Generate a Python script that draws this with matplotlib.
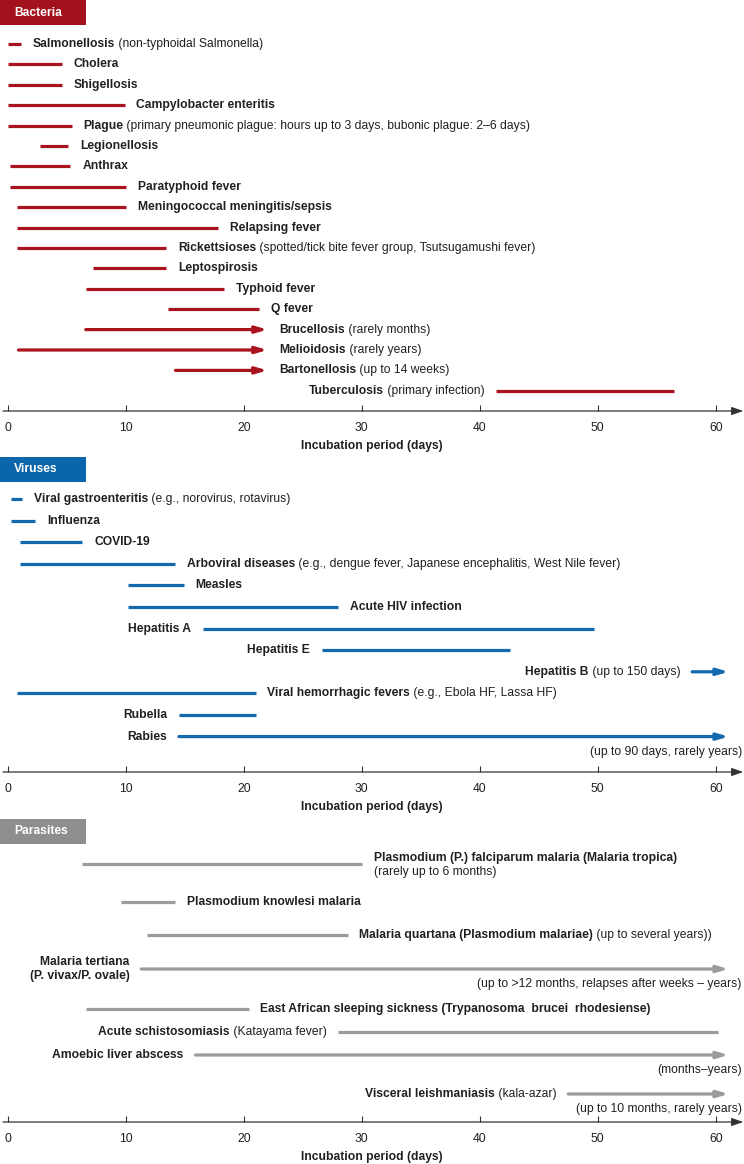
import numpy as np
import matplotlib.pyplot as plt
from matplotlib.patches import Rectangle
from matplotlib.transforms import blended_transform_factory

plt.rcParams['font.family'] = ['Liberation Sans', 'DejaVu Sans']
plt.rcParams['font.size'] = 8.7

# ---- Bacteria ----
bac_names = ['Salmonellosis', 'Cholera', 'Shigellosis', 'Campylobacter enteritis', 'Plague',
             'Legionellosis', 'Anthrax', 'Paratyphoid fever', 'Meningococcal meningitis/sepsis',
             'Relapsing fever', 'Rickettsioses', 'Leptospirosis', 'Typhoid fever', 'Q fever',
             'Brucellosis', 'Melioidosis', 'Bartonellosis', 'Tuberculosis']
bac_notes = [' (non-typhoidal Salmonella)', '', '', '',
             ' (primary pneumonic plague: hours up to 3 days, bubonic plague: 2\u20136 days)',
             '', '', '', '', '', ' (spotted/tick bite fever group, Tsutsugamushi fever)',
             '', '', '', ' (rarely months)', ' (rarely years)', ' (up to 14 weeks)',
             ' (primary infection)']
bac_start = [0.05, 0, 0, 0, 0, 2.7, 0.2, 0.2, 0.8, 0.8, 0.8, 7.2, 6.6, 13.6, 6.6, 0.9, 14.2, 41.4]
bac_end = [1.1, 4.6, 4.6, 9.9, 5.4, 5.1, 5.3, 10.0, 10.0, 17.8, 13.4, 13.4, 18.3, 21.3,
           22.0, 22.0, 22.0, 56.5]
bac_arrow = [False] * 14 + [True, True, True, False]
bac_side = ['r'] * 17 + ['l']

# ---- Viruses ----
vir_names = ['Viral gastroenteritis', 'Influenza', 'COVID-19', 'Arboviral diseases', 'Measles',
             'Acute HIV infection', 'Hepatitis A', 'Hepatitis E', 'Hepatitis B',
             'Viral hemorrhagic fevers', 'Rubella', 'Rabies']
vir_notes = [' (e.g., norovirus, rotavirus)', '', '',
             ' (e.g., dengue fever, Japanese encephalitis, West Nile fever)', '', '', '', '',
             ' (up to 150 days)', ' (e.g., Ebola HF, Lassa HF)', '', '']
vir_start = [0.3, 0.3, 1.0, 1.0, 10.2, 10.2, 16.5, 26.6, 58.0, 0.8, 14.5, 14.5]
vir_end = [1.2, 2.3, 6.3, 14.2, 14.9, 28.0, 49.7, 42.6, 61.1, 21.0, 21.0, 61.1]
vir_arrow = [False] * 8 + [True, False, False, True]
vir_side = ['r'] * 6 + ['l', 'l', 'l', 'r', 'l', 'l']
vir_tails = [''] * 11 + ['(up to 90 days, rarely years)']

# ---- Parasites ----
par_names = ['Plasmodium (P.) falciparum malaria (Malaria tropica)', 'Plasmodium knowlesi malaria',
             'Malaria quartana (Plasmodium malariae)', 'Malaria tertiana\n(P. vivax/P. ovale)',
             'East African sleeping sickness (Trypanosoma  brucei  rhodesiense)',
             'Acute schistosomiasis', 'Amoebic liver abscess', 'Visceral leishmaniasis']
par_notes = ['', '', ' (up to several years))', '', '', ' (Katayama fever)', '', ' (kala-azar)']
par_subs = ['(rarely up to 6 months)', '', '', '', '', '', '', '']
par_start = [6.3, 9.6, 11.8, 11.3, 6.6, 28.0, 15.9, 47.5]
par_end = [30.0, 14.2, 28.8, 61.1, 20.4, 60.2, 61.1, 61.1]
par_arrow = [False, False, False, True, False, False, True, True]
par_side = ['r', 'r', 'r', 'l', 'r', 'l', 'l', 'l']
par_tails = ['', '', '', '(up to >12 months, relapses after weeks \u2013 years)', '', '',
             '(months\u2013years)', '(up to 10 months, rarely years)']

W, H = 744, 1164
fig = plt.figure(figsize=(W / 100, H / 100), dpi=100)
X0, X1 = -0.67, 62.4
TXT = '#231f20'
AX = '#333333'


def panel(top, axis_y, rows, title, hdr_col, col, names, notes, start, end, arrow, side,
          tails=None, subs=None):
    ax = fig.add_axes([0, 1 - axis_y / H, 1, (axis_y - top) / H])
    ax.set_xlim(X0, X1)
    ax.set_ylim(axis_y, top)
    for s in ['top', 'right', 'left', 'bottom']:
        ax.spines[s].set_visible(False)
    ax.set_yticks([])
    ax.set_xticks(np.arange(0, 61, 10))
    ax.tick_params(axis='x', direction='in', length=4.5, width=0.8, color=AX,
                   labelcolor=TXT, labelsize=8.7, pad=8)
    ax.annotate('', xy=(0.999, 0), xytext=(0.004, 0), xycoords='axes fraction',
                arrowprops=dict(arrowstyle='-|>,head_length=0.8,head_width=0.28',
                                color=AX, lw=0.9, shrinkA=0, shrinkB=0), annotation_clip=False)
    ax.set_xlabel('Incubation period (days)', fontweight='bold', color=TXT, fontsize=8.7)
    ax.xaxis.set_label_coords(0.5, -29 / (axis_y - top))

    # header box
    fig.add_artist(Rectangle((0, 1 - (top + 25) / H), 86 / W, 25 / H,
                             transform=fig.transFigure, color=hdr_col, lw=0))
    fig.text(14 / W, 1 - (top + 12.5) / H, title, color='white', fontweight='bold',
             va='center', ha='left', fontsize=8.7)

    blend = blended_transform_factory(ax.transAxes, ax.transData)
    for i, y in enumerate(rows):
        if arrow[i]:
            ax.annotate('', xy=(end[i], y), xytext=(start[i], y),
                        arrowprops=dict(arrowstyle='-|>,head_length=0.75,head_width=0.22',
                                        color=col, lw=2.3, shrinkA=0, shrinkB=0))
        else:
            ax.hlines(y, start[i], end[i], color=col, lw=2.3, capstyle='butt')
        sub = subs[i] if subs else ''
        dy = 4 if sub else 0
        if side[i] == 'r':
            t = ax.annotate(names[i], xy=(end[i], y), xytext=(8.5, dy),
                            textcoords='offset points', ha='left', va='center',
                            fontweight='bold', color=TXT)
            if notes[i]:
                ax.annotate(notes[i], xy=(1, 0), xycoords=t, ha='left', va='bottom', color=TXT)
            if sub:
                ax.annotate(sub, xy=(0, 0), xycoords=t, xytext=(0, -1),
                            textcoords='offset points', ha='left', va='top', color=TXT)
        else:
            if notes[i]:
                n = ax.annotate(notes[i], xy=(start[i], y), xytext=(-8.5, 0),
                                textcoords='offset points', ha='right', va='center', color=TXT)
                ax.annotate(names[i], xy=(0, 0), xycoords=n, ha='right', va='bottom',
                            fontweight='bold', color=TXT)
            else:
                ax.annotate(names[i], xy=(start[i], y), xytext=(-8.5, 0),
                            textcoords='offset points', ha='right', va='center',
                            fontweight='bold', color=TXT, multialignment='right',
                            linespacing=1.15)
        if tails and tails[i]:
            ax.text(0.997, y + 15, tails[i], transform=blend, ha='right', va='center', color=TXT)
    return ax


bac_rows = 44 + 20.4 * np.arange(len(bac_names))
vir_rows = 499 + 21.6 * np.arange(len(vir_names))
par_rows = [864, 902, 935, 969, 1009, 1032, 1055, 1094]

panel(0, 411, bac_rows, 'Bacteria', '#a3111c', '#a8131d', bac_names, bac_notes,
      bac_start, bac_end, bac_arrow, bac_side)
panel(457, 772, vir_rows, 'Viruses', '#0b65ab', '#1469ad', vir_names, vir_notes,
      vir_start, vir_end, vir_arrow, vir_side, tails=vir_tails)
panel(819, 1122, par_rows, 'Parasites', '#8e8e8e', '#9b9b9b', par_names, par_notes,
      par_start, par_end, par_arrow, par_side, tails=par_tails, subs=par_subs)

fig.savefig('out.png', dpi=100)
